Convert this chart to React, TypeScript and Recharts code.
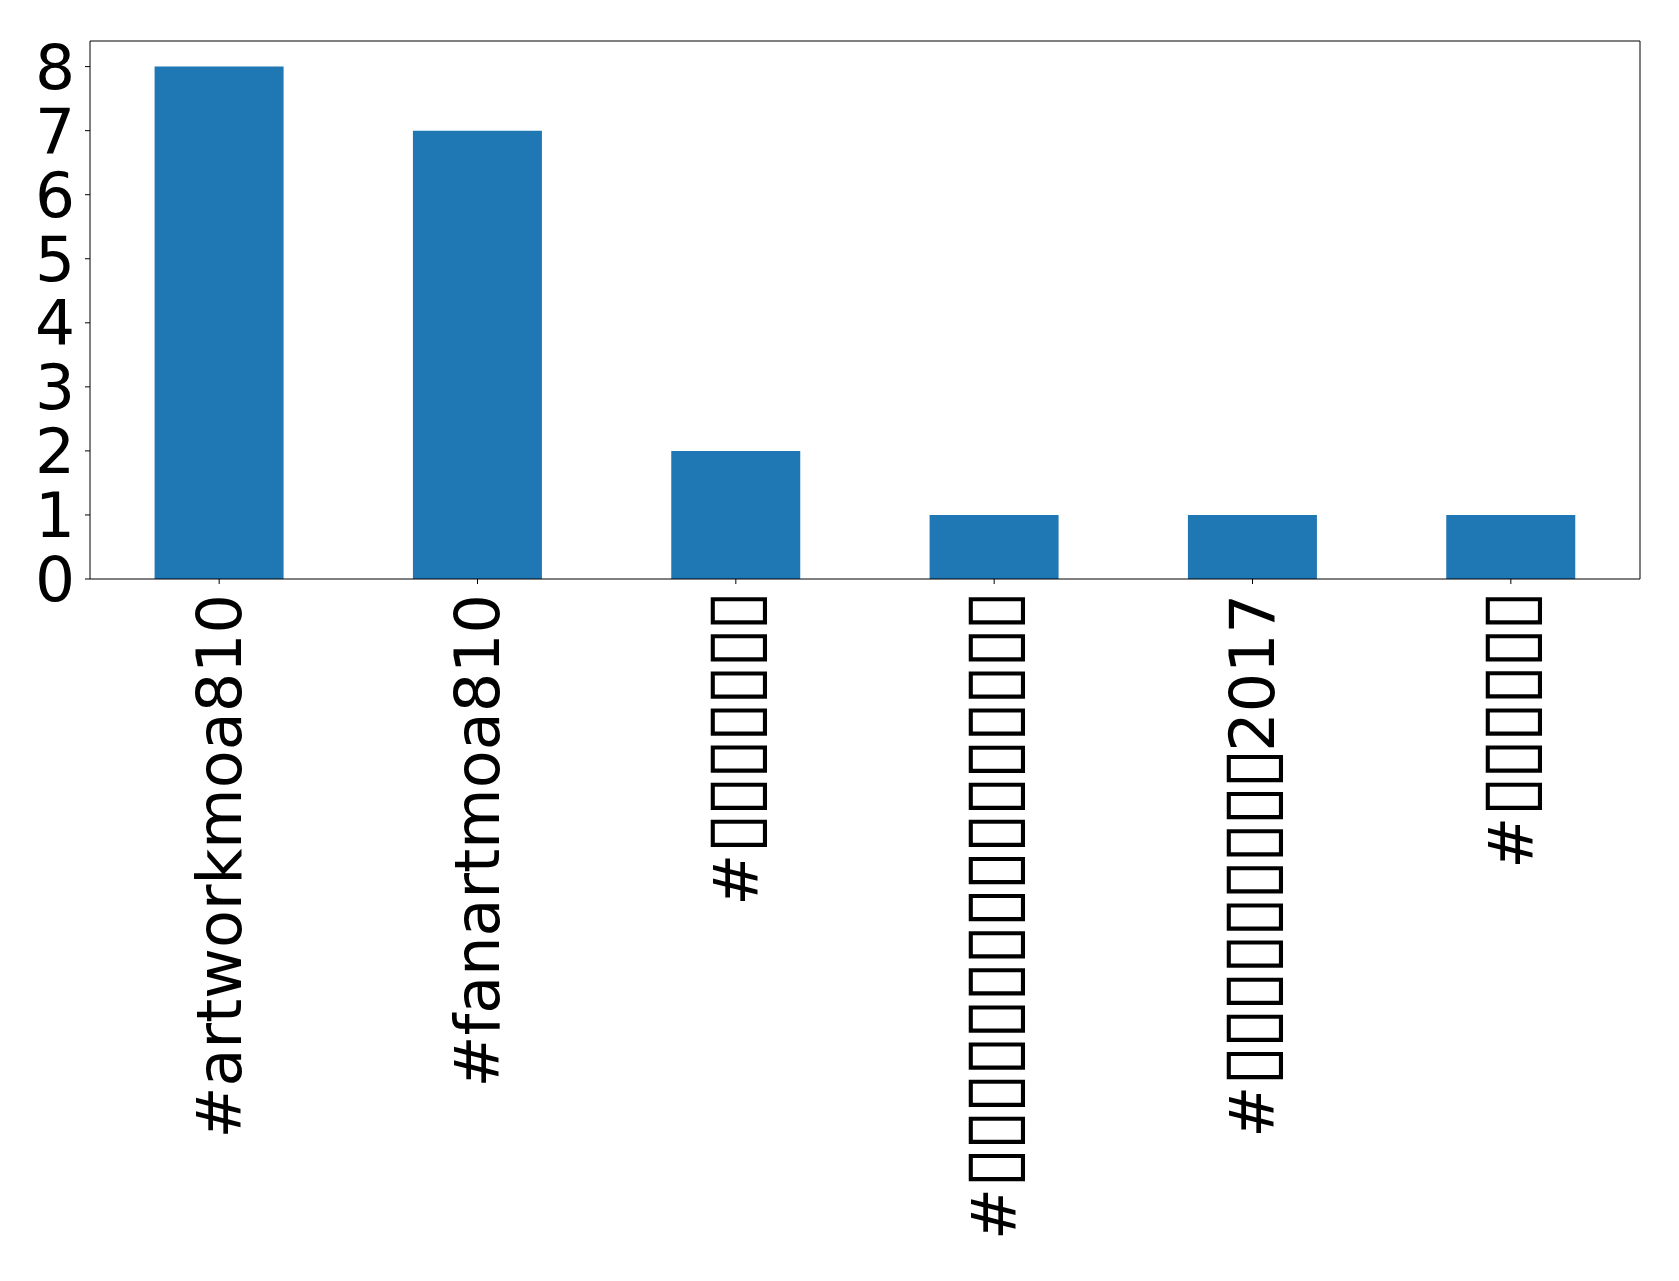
import { Bar, BarChart, XAxis, YAxis } from "recharts";

const categories = [
  "#artworkmoa810",
  "#fanartmoa810",
  "#▯▯▯▯▯▯▯",
  "#▯▯▯▯▯▯▯▯▯▯▯▯▯▯▯▯",
  "#▯▯▯▯▯▯▯▯▯2017",
  "#▯▯▯▯▯▯",
];
const counts = [8, 7, 2, 1, 1, 1];
const yTicks = [0, 1, 2, 3, 4, 5, 6, 7, 8];

const data = categories.map((name, i) => ({ name, count: counts[i] }));

const FONT = "'DejaVu Sans', sans-serif";
const BOX = "▯";
const LABEL_SIZE = 62;

// split a label into runs of plain text and missing-glyph boxes
function runs(label: string) {
  const out: { box: boolean; text: string }[] = [];
  for (const ch of label) {
    const box = ch === BOX;
    const last = out[out.length - 1];
    if (last && last.box === box) last.text += ch;
    else out.push({ box, text: ch });
  }
  return out;
}

function RotatedTick(props: any) {
  const { x, y, payload } = props;
  const y0 = y + 8;
  return (
    <text
      x={x}
      y={y0}
      dy={0.35 * LABEL_SIZE}
      textAnchor="end"
      transform={`rotate(-90, ${x}, ${y0})`}
      fontSize={LABEL_SIZE}
      fontFamily={FONT}
      fill="#000"
    >
      {runs(payload.value).map((r, i) => (
        <tspan
          key={i}
          fontSize={r.box ? 74 : LABEL_SIZE}
          letterSpacing={r.box ? -3.6 : 0}
        >
          {r.text}
        </tspan>
      ))}
    </text>
  );
}

export default function App() {
  return (
    <div style={{ position: "absolute", left: 0, top: 0, background: "#fff" }}>
      <BarChart
        width={1679}
        height={1281}
        data={data}
        barCategoryGap="25%"
        margin={{ top: 40, right: 38, bottom: 0, left: 0 }}
      >
        <XAxis
          dataKey="name"
          interval={0}
          height={702}
          tickSize={5}
          stroke="#000"
          tick={<RotatedTick />}
        />
        <XAxis
          xAxisId="top"
          orientation="top"
          dataKey="name"
          height={1}
          tick={false}
          tickLine={false}
          stroke="#000"
        />
        <YAxis
          domain={[0, 8.4]}
          ticks={yTicks}
          interval={0}
          width={90}
          tickSize={5}
          tickMargin={10}
          stroke="#000"
          tick={{ fontSize: 63, fontFamily: FONT, fill: "#000" }}
          allowDataOverflow
        />
        <YAxis
          yAxisId="right"
          orientation="right"
          width={1}
          tick={false}
          tickLine={false}
          stroke="#000"
        />
        <Bar dataKey="count" fill="#1f77b4" isAnimationActive={false} />
      </BarChart>
    </div>
  );
}
